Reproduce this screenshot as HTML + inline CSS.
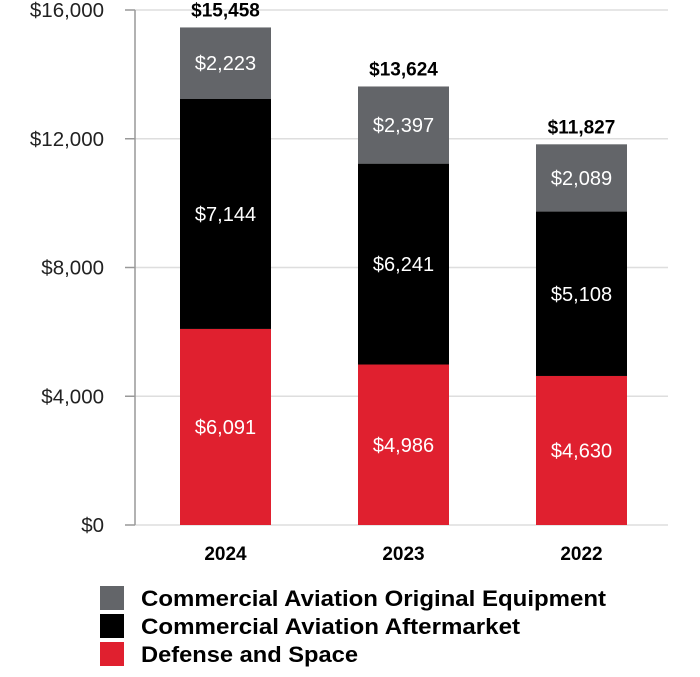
<!DOCTYPE html>
<html><head><meta charset="utf-8"><style>
body{margin:0;background:#fff;font-family:"Liberation Sans",Arial,sans-serif}
svg text{font-family:"Liberation Sans",Arial,sans-serif}
</style></head><body>
<svg width="700" height="672" id="chart">
</svg>
<script>
const years=["2024","2023","2022"];
const defense=[6091,4986,4630];
const aftermarket=[7144,6241,5108];
const oe=[2223,2397,2089];
const totals=[15458,13624,11827];
const ticks=[0,4000,8000,12000,16000];
const seriesNames=["Commercial Aviation Original Equipment","Commercial Aviation Aftermarket","Defense and Space"];

const NS="http://www.w3.org/2000/svg";
const svg=document.getElementById('chart');
const y0=525,pxPer=515/16000;
const yS=v=>y0-v*pxPer;
const xC=i=>225.5+i*178;
const bw=91;
const fmt=v=>"$"+v.toLocaleString("en-US");
function mk(tag,attrs,parent){const e=document.createElementNS(NS,tag);for(const k in attrs)e.setAttribute(k,attrs[k]);(parent||svg).appendChild(e);return e;}

ticks.forEach(t=>{
  const g=mk('line',{x1:135,x2:668,y1:yS(t),y2:yS(t),stroke:'#dedede','stroke-width':1.5});
  
  
  const tk=mk('line',{x1:125,x2:135,y1:yS(t),y2:yS(t),stroke:'#999','stroke-width':1.5});
  
  
  const tx=mk('text',{x:104,y:yS(t)+7,'text-anchor':'end','font-size':20.5,fill:'#222'});
  tx.textContent=fmt(t);
  
  
});
const ax=mk('line',{x1:135,x2:135,y1:yS(16000),y2:y0,stroke:'#999','stroke-width':1.5});



const colors=['#e0202f','#000000','#636569'];
years.forEach((yr,i)=>{
  const segs=[defense[i],aftermarket[i],oe[i]];
  let base=0;
  segs.forEach((v,j)=>{
    const r=mk('rect',{x:xC(i)-bw/2,y:yS(base+v),width:bw,height:v*pxPer,fill:colors[j]});
    
    
    const t=mk('text',{x:xC(i),y:yS(base+v/2)+7,'text-anchor':'middle','font-size':20,fill:'#fff'});
    t.textContent=fmt(v);
    
    
    base+=v;
  });
  const tt=mk('text',{x:xC(i),y:yS(totals[i])-11,'text-anchor':'middle','font-size':19,'font-weight':'bold',fill:'#000'});
  tt.textContent=fmt(totals[i]);
  
  
  const xl=mk('text',{x:xC(i),y:560,'text-anchor':'middle','font-size':19,'font-weight':'bold',fill:'#000'});
  xl.textContent=yr;
  
  
});

const legColors=['#636569','#000000','#e0202f'];
const legY=[586,614,642];
const legLen=[465,379,217];
seriesNames.forEach((n,k)=>{
  const r=mk('rect',{x:100,y:legY[k],width:24,height:24,fill:legColors[k]});
  
  
  const t=mk('text',{x:141,y:legY[k]+20,'font-size':22.5,'font-weight':'bold',fill:'#000',textLength:legLen[k],lengthAdjust:'spacingAndGlyphs'});
  t.textContent=n;
  
  
});
</script>
</body></html>
